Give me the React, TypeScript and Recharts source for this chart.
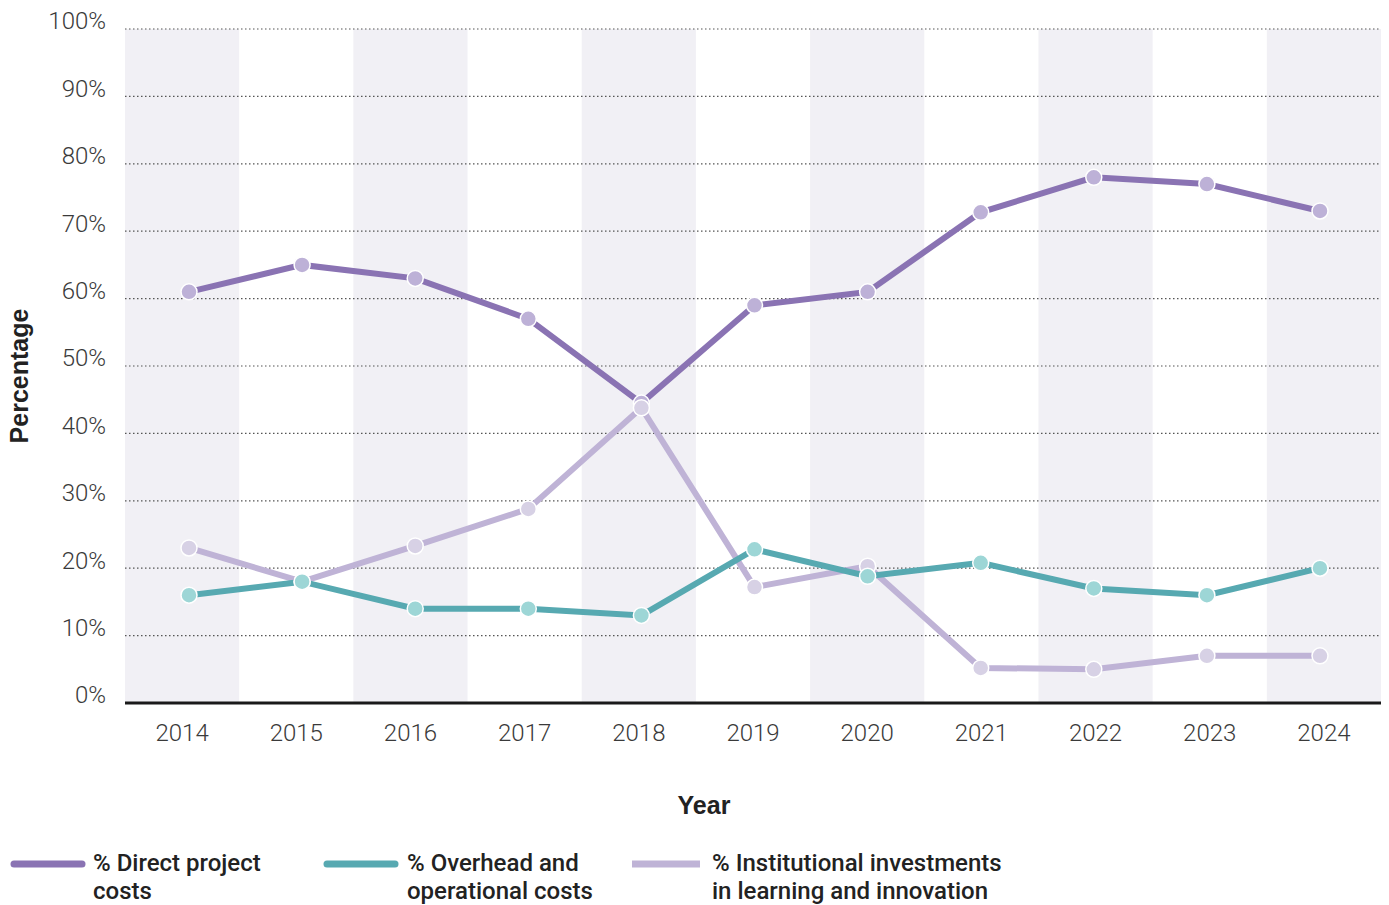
import React from 'react';
import { LineChart, Line, XAxis, YAxis, ReferenceArea, ReferenceLine, Legend, Label } from 'recharts';

const years = ['2014', '2015', '2016', '2017', '2018', '2019', '2020', '2021', '2022', '2023', '2024'];
const directProject = [61, 65, 63, 57, 44.5, 59, 61, 72.8, 78, 77, 73];
const overheadOperational = [16, 18, 14, 14, 13, 22.8, 18.8, 20.8, 17, 16, 20];
const institutionalInvestments = [23, 18, 23.3, 28.8, 43.8, 17.2, 20.3, 5.2, 5, 7, 7];
const yTicks = [0, 10, 20, 30, 40, 50, 60, 70, 80, 90, 100];
const shadedYears = ['2014', '2016', '2018', '2020', '2022', '2024'];

const data = years.map((y, i) => ({
  year: y,
  direct: directProject[i],
  overhead: overheadOperational[i],
  institutional: institutionalInvestments[i],
}));

const FONT = 'Roboto, "Noto Sans", sans-serif';
const BOLD_FONT = '"Liberation Sans", Arial, sans-serif';

const series = [
  { key: 'direct', name: '% Direct project', name2: 'costs', line: '#8a73b3', dot: '#bdb1d7', cap: 'round' },
  { key: 'overhead', name: '% Overhead and', name2: 'operational costs', line: '#57a9b1', dot: '#9dd6d6', cap: 'round' },
  { key: 'institutional', name: '% Institutional investments', name2: 'in learning and innovation', line: '#bfb3d6', dot: '#d7d1e5', cap: 'butt' },
];

const legendPos = [
  { icon: 1.5, text: 85 },
  { icon: 314.5, text: 399 },
  { icon: 620, text: 704 },
];

const XTick = (props: any) => {
  const { x, y, payload } = props;
  return (
    <text x={x} y={y + 30} dy="0.35em" textAnchor="middle" fill="#3a3a3a" fontSize={24} fontWeight={300} fontFamily={FONT}>
      {payload.value}
    </text>
  );
};

const YTick = (props: any) => {
  const { x, y, payload } = props;
  return (
    <text x={x - 19} y={y - 8} dy="0.35em" textAnchor="end" fill="#3a3a3a" fontSize={24} fontWeight={300} fontFamily={FONT}>
      {`${payload.value}%`}
    </text>
  );
};

const LegendContent = () => (
  <div style={{ position: 'relative', height: 62, width: 1381, fontFamily: FONT }}>
    {series.map((s, i) => (
      <React.Fragment key={s.key}>
        <svg style={{ position: 'absolute', left: legendPos[i].icon, top: 15 }} width={80} height={12}>
          <line x1={4} y1={6} x2={72} y2={6} stroke={s.line} strokeWidth={7} strokeLinecap={s.cap as any} />
        </svg>
        <div
          style={{
            position: 'absolute',
            left: legendPos[i].text,
            top: 6,
            fontSize: 24,
            fontWeight: 500,
            lineHeight: '28px',
            color: '#222',
            whiteSpace: 'nowrap',
          }}
        >
          {s.name}
          <br />
          {s.name2}
        </div>
      </React.Fragment>
    ))}
  </div>
);

export default function App() {
  return (
    <LineChart width={1381} height={897} data={data} margin={{ top: 21, right: 8, left: 0, bottom: 0 }}>
      {shadedYears.map((y) => (
        <ReferenceArea key={y} x1={y} x2={y} y1={0} y2={100} fill="#f1f0f5" fillOpacity={1} stroke="none" ifOverflow="visible" />
      ))}
      {yTicks.filter((t) => t > 0).map((t) => (
        <ReferenceLine key={t} y={t} stroke="#555" strokeDasharray="1.5 2.5" strokeWidth={1.2} ifOverflow="visible" />
      ))}
      <XAxis
        dataKey="year"
        scale="band"
        height={140}
        tickSize={0}
        tickMargin={0}
        tick={<XTick />}
        axisLine={{ stroke: '#1a1a1a', strokeWidth: 3 }}
        interval={0}
      >
        <Label
          content={(p: any) => (
            <text x={696} y={p.viewBox.y + 102} dy="0.35em" textAnchor="middle" fontSize={25} fontWeight={700} fill="#222" fontFamily={BOLD_FONT}>
              Year
            </text>
          )}
        />
      </XAxis>
      <XAxis xAxisId="pts" dataKey="year" type="category" scale="point" padding={{ left: 64, right: 61 }} hide />
      <YAxis
        domain={[0, 100]}
        ticks={yTicks}
        width={117}
        tickSize={0}
        tickMargin={0}
        axisLine={false}
        tick={<YTick />}
        interval={0}
      >
        <Label
          content={(p: any) => {
            const cx = 20;
            const cy = p.viewBox.y + p.viewBox.height / 2 + 10;
            return (
              <text x={cx} y={cy} textAnchor="middle" transform={`rotate(-90 ${cx} ${cy})`} fontSize={25} fontWeight={700} fill="#222" fontFamily={BOLD_FONT}>
                Percentage
              </text>
            );
          }}
        />
      </YAxis>
      <Legend verticalAlign="bottom" align="left" content={<LegendContent />} />
      {[series[0], series[2], series[1]].map((s) => (
        <Line
          key={s.key}
          xAxisId="pts"
          type="linear"
          dataKey={s.key}
          name={s.name}
          stroke={s.line}
          strokeWidth={6}
          dot={{ r: 8, fill: s.dot, stroke: '#fff', strokeWidth: 1.5 }}
          activeDot={false}
          isAnimationActive={false}
        />
      ))}
    </LineChart>
  );
}
